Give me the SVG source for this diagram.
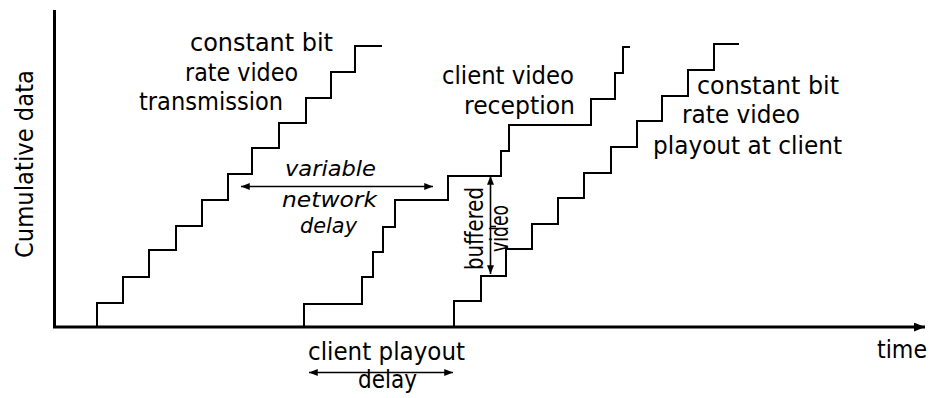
<svg xmlns="http://www.w3.org/2000/svg" width="930" height="398" viewBox="0 0 930 398">
<style>
.stair{fill:none;stroke:#000;stroke-width:2;stroke-linejoin:miter}
.axis{fill:none;stroke:#000;stroke-width:3}
.thin{fill:none;stroke:#000;stroke-width:1.6}
text{font-family:"DejaVu Sans","Liberation Sans",sans-serif;font-size:24px;fill:#000}
.it{font-style:italic;font-size:22px}
</style>
<defs>
<marker id="ah" viewBox="0 0 10 8" refX="10" refY="4" markerWidth="9" markerHeight="7" markerUnits="userSpaceOnUse" orient="auto-start-reverse"><path d="M0,0 L10,4 L0,8 z" fill="#000"/></marker>
<marker id="axh" viewBox="0 0 10 8" refX="10" refY="4" markerWidth="11" markerHeight="9" markerUnits="userSpaceOnUse" orient="auto"><path d="M0,0 L10,4 L0,8 z" fill="#000"/></marker>
</defs>
<rect width="930" height="398" fill="#fff"/>
<g id="axes">
<line class="axis" x1="54.5" y1="10" x2="54.5" y2="328"/>
<line class="axis" x1="53" y1="327" x2="925" y2="327" marker-end="url(#axh)"/>
<text transform="translate(33,258) rotate(-90)" font-size="23" textLength="188" lengthAdjust="spacingAndGlyphs">Cumulative data</text>
<text x="877" y="358" font-size="22" textLength="50" lengthAdjust="spacingAndGlyphs">time</text>
</g>
<g id="transmission">
<polyline class="stair" points="97,327 97,303 123,303 123,277 149,277 149,250 176,250 176,226 202,226 202,200 228,200 228,174 252,174 252,148 279,148 279,123 306,123 306,98 331,98 331,72 355,72 355,46 382,46"/>
<text x="190" y="51" textLength="143" lengthAdjust="spacingAndGlyphs">constant bit</text>
<text x="185" y="81" textLength="113" lengthAdjust="spacingAndGlyphs">rate video</text>
<text x="139" y="110" textLength="144" lengthAdjust="spacingAndGlyphs">transmission</text>
</g>
<g id="reception">
<polyline class="stair" points="304,327 304,304 362,304 362,277 373,277 373,252 383,252 383,227 395,227 395,200 448,200 448,176 501,176 501,151 509,151 509,125 591,125 591,99 615,99 615,73 623,73 623,47 630,47"/>
<text x="442" y="84" textLength="132" lengthAdjust="spacingAndGlyphs">client video</text>
<text x="464" y="114" textLength="111" lengthAdjust="spacingAndGlyphs">reception</text>
</g>
<g id="playout">
<polyline class="stair" points="454,327 454,301 481,301 481,276 506,276 506,249 532,249 532,224 558,224 558,198 584,198 584,173 611,173 611,147 637,147 637,121 662,121 662,96 688,96 688,70 714,70 714,44 739,44"/>
<text x="697" y="94" textLength="142" lengthAdjust="spacingAndGlyphs">constant bit</text>
<text x="682" y="123" textLength="118" lengthAdjust="spacingAndGlyphs">rate video</text>
<text x="653" y="154" textLength="189" lengthAdjust="spacingAndGlyphs">playout at client</text>
</g>
<g id="connectors">
<line class="thin" x1="241" y1="186.5" x2="433" y2="186.5" marker-start="url(#ah)" marker-end="url(#ah)"/>
<line class="thin" x1="490.5" y1="176" x2="490.5" y2="274" marker-start="url(#ah)" marker-end="url(#ah)"/>
<line class="thin" x1="490.5" y1="226.5" x2="496" y2="226.5"/>
<line class="thin" x1="309" y1="372.5" x2="453" y2="372.5" marker-start="url(#ah)" marker-end="url(#ah)"/>
</g>
<g id="network-delay">
<text class="it" x="285" y="176" textLength="91" lengthAdjust="spacingAndGlyphs">variable</text>
<text class="it" x="282" y="207" textLength="95" lengthAdjust="spacingAndGlyphs">network</text>
<text class="it" x="300" y="233" textLength="57" lengthAdjust="spacingAndGlyphs">delay</text>
</g>
<g id="buffered-video">
<text transform="translate(483,270) rotate(-90)" font-size="19" textLength="83" lengthAdjust="spacingAndGlyphs">buffered</text>
<text transform="translate(508,252) rotate(-90)" font-size="19" textLength="47" lengthAdjust="spacingAndGlyphs">video</text>
</g>
<g id="playout-delay">
<text x="308" y="360" font-size="22" textLength="157" lengthAdjust="spacingAndGlyphs">client playout</text>
<text x="358" y="388" font-size="22" textLength="59" lengthAdjust="spacingAndGlyphs">delay</text>
</g>
</svg>
